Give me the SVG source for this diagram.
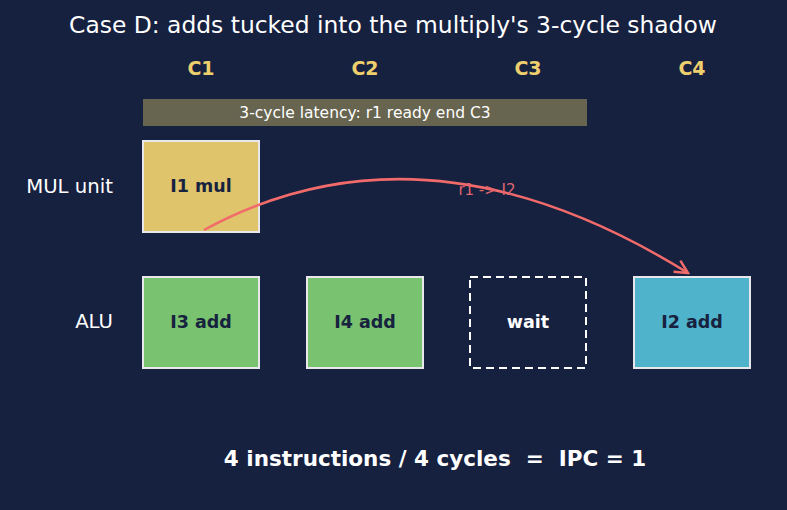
<svg xmlns="http://www.w3.org/2000/svg" width="787" height="510" viewBox="0 0 787 510">
<defs>
<style>
text{font-family:"DejaVu Sans",sans-serif}
.title{font-size:23.4px;fill:#ffffff;text-anchor:middle}
.cyc{font-size:19px;font-weight:bold;fill:#eecf6d;text-anchor:middle}
.unit{font-size:19.7px;fill:#ffffff;text-anchor:end}
.box{stroke:#e8e8ec;stroke-width:2}
.lbl{font-size:17.5px;font-weight:bold;fill:#17223f;text-anchor:middle}
</style>
<marker id="ah" viewBox="0 0 16 16" refX="14" refY="8" markerWidth="16" markerHeight="16" orient="auto" markerUnits="userSpaceOnUse">
<path d="M1,1.5 L14,8 L1,14.5" fill="none" stroke="#f26b6b" stroke-width="2.5"/>
</marker>
</defs>
<rect width="787" height="510" fill="#16203f"/>
<text class="title" x="393" y="33">Case D: adds tucked into the multiply's 3-cycle shadow</text>
<g id="cycles">
<text class="cyc" x="201" y="75">C1</text>
<text class="cyc" x="365" y="75">C2</text>
<text class="cyc" x="528" y="75">C3</text>
<text class="cyc" x="692" y="75">C4</text>
</g>
<g id="latency">
<rect x="143" y="99" width="444" height="27" fill="#67644f"/>
<text x="365" y="118" font-size="15.5" fill="#ffffff" text-anchor="middle">3-cycle latency: r1 ready end C3</text>
</g>
<text class="unit" x="113" y="193">MUL unit</text>
<text class="unit" x="113" y="328">ALU</text>
<g id="I1">
<rect class="box" x="143" y="141" width="116" height="91" fill="#dfc46b"/>
<text class="lbl" x="201" y="192">I1 mul</text>
</g>
<g id="I3">
<rect class="box" x="143" y="277" width="116" height="91" fill="#78c270"/>
<text class="lbl" x="201" y="328">I3 add</text>
</g>
<g id="I4">
<rect class="box" x="307" y="277" width="116" height="91" fill="#78c270"/>
<text class="lbl" x="365" y="328">I4 add</text>
</g>
<g id="wait">
<rect x="470" y="277" width="116" height="91" fill="none" stroke="#ffffff" stroke-width="2" stroke-dasharray="8,5"/>
<text class="lbl" x="528" y="328" style="fill:#ffffff">wait</text>
</g>
<g id="I2">
<rect class="box" x="634" y="277" width="116" height="91" fill="#50b3cc"/>
<text class="lbl" x="692" y="328">I2 add</text>
</g>
<g id="connectors">
<path d="M204,230 Q425,110 688,273" fill="none" stroke="#f26b6b" stroke-width="2.5" marker-end="url(#ah)"/>
<text x="487" y="195" font-size="15" fill="#e06670" text-anchor="middle">r1 -&gt; I2</text>
</g>
<text x="435" y="466" font-size="21.5" font-weight="bold" fill="#ffffff" text-anchor="middle" style="white-space:pre">4 instructions / 4 cycles  =  IPC = 1</text>
</svg>
